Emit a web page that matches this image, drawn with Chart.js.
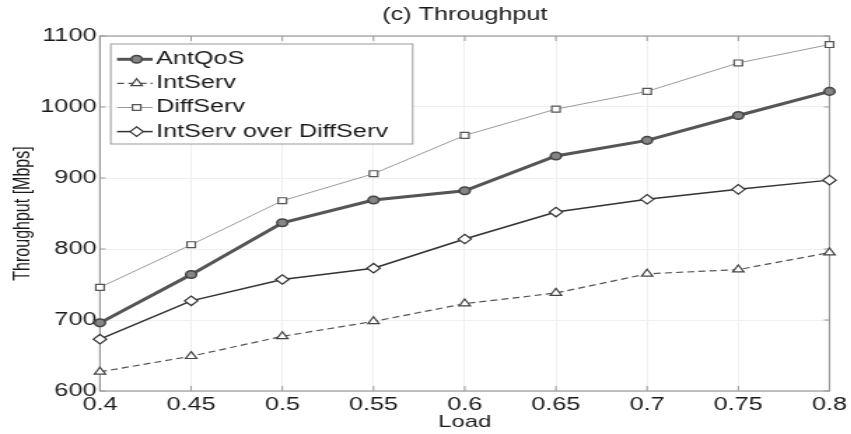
<!DOCTYPE html>
<html>
<head>
<meta charset="utf-8">
<script src="https://cdn.jsdelivr.net/npm/chart.js@4.4.0/dist/chart.umd.min.js"></script>
<style>
html, body { margin: 0; padding: 0; background: #fff; overflow: hidden; }
/* the reference figure is stretched sideways, so draw narrow and widen */
#wrap { width: 608px; height: 434px; transform: scaleX(1.4); transform-origin: 0 0; }
</style>
</head>
<body>
<div id="wrap"><canvas id="chart"></canvas></div>
<script>
const loads = ['0.4', '0.45', '0.5', '0.55', '0.6', '0.65', '0.7', '0.75', '0.8'];
const antQoS = [696, 764, 837, 869, 882, 931, 953, 988, 1022];
const intServ = [627, 649, 677, 698, 723, 738, 765, 771, 795];
const diffServ = [746, 806, 868, 906, 960, 997, 1022, 1062, 1088];
const intOverDiff = [673, 727, 757, 773, 814, 852, 870, 884, 897];
const yTicks = [600, 700, 800, 900, 1000, 1100];

const fontFamily = '"Liberation Sans", Arial, sans-serif';
const textColor = '#1a1a1a';

// box around the plot with MATLAB style inward ticks
const frame = {
    id: 'frame',
    beforeDatasetsDraw(chart) {
        const ctx = chart.ctx;
        const a = chart.chartArea;
        const xs = chart.scales.x;
        const ys = chart.scales.y;
        ctx.save();
        ctx.strokeStyle = '#9a9a9a';
        ctx.lineWidth = 1.2;
        ctx.strokeRect(a.left, a.top, a.right - a.left, a.bottom - a.top);
        ctx.lineWidth = 1;
        ctx.beginPath();
        loads.forEach((_, i) => {
            const px = xs.getPixelForTick(i);
            ctx.moveTo(px, a.bottom); ctx.lineTo(px, a.bottom - 5);
            ctx.moveTo(px, a.top); ctx.lineTo(px, a.top + 5);
        });
        yTicks.forEach(v => {
            const py = ys.getPixelForValue(v);
            ctx.moveTo(a.left, py); ctx.lineTo(a.left + 4, py);
            ctx.moveTo(a.right, py); ctx.lineTo(a.right - 4, py);
        });
        ctx.stroke();
        ctx.restore();
    }
};

// legend inside the plot, line sample with marker
const legendBox = {
    id: 'legendBox',
    afterDatasetsDraw(chart) {
        const ctx = chart.ctx;
        const a = chart.chartArea;
        const x0 = a.left + 7.7, y0 = a.top + 8, w = 215.7, h = 100;
        ctx.save();
        ctx.fillStyle = '#fff';
        ctx.fillRect(x0, y0, w, h);
        ctx.strokeStyle = '#9a9a9a';
        ctx.lineWidth = 1;
        ctx.strokeRect(x0, y0, w, h);
        chart.data.datasets.forEach((ds, i) => {
            const y = y0 + 15.3 + i * 24.1;
            ctx.beginPath();
            ctx.setLineDash(ds.borderDash || []);
            ctx.lineWidth = ds.borderWidth;
            ctx.strokeStyle = ds.borderColor;
            ctx.moveTo(x0 + 4.5, y);
            ctx.lineTo(x0 + 29.9, y);
            ctx.stroke();
            ctx.setLineDash([]);
            ctx.fillStyle = ds.pointBackgroundColor;
            ctx.strokeStyle = ds.pointBorderColor;
            ctx.lineWidth = ds.pointBorderWidth;
            Chart.helpers.drawPoint(ctx, {
                pointStyle: ds.pointStyle,
                radius: ds.pointRadius,
                borderWidth: ds.pointBorderWidth,
                rotation: 0
            }, x0 + 18.5, y);
            ctx.fillStyle = textColor;
            ctx.font = '18px ' + fontFamily;
            ctx.textBaseline = 'middle';
            ctx.textAlign = 'left';
            ctx.fillText(ds.label, x0 + 32.3, y);
        });
        ctx.restore();
    }
};

const config = {
    type: 'line',
    data: {
        labels: loads,
        datasets: [
            {
                label: 'AntQoS',
                data: antQoS,
                borderColor: '#555555',
                borderWidth: 3,
                pointStyle: 'circle',
                pointRadius: 3.8,
                pointBackgroundColor: '#858585',
                pointBorderColor: '#444444',
                pointBorderWidth: 1.5,
                tension: 0,
                clip: false
            },
            {
                label: 'IntServ',
                data: intServ,
                borderColor: '#555555',
                borderWidth: 1.2,
                borderDash: [5, 3],
                pointStyle: 'triangle',
                pointRadius: 4.6,
                pointBackgroundColor: '#ffffff',
                pointBorderColor: '#444444',
                pointBorderWidth: 1.2,
                tension: 0,
                clip: false
            },
            {
                label: 'DiffServ',
                data: diffServ,
                borderColor: '#9a9a9a',
                borderWidth: 1,
                pointStyle: 'rect',
                pointRadius: 4.2,
                pointBackgroundColor: '#ffffff',
                pointBorderColor: '#555555',
                pointBorderWidth: 1.2,
                tension: 0,
                clip: false
            },
            {
                label: 'IntServ over DiffServ',
                data: intOverDiff,
                borderColor: '#333333',
                borderWidth: 1.5,
                pointStyle: 'rectRot',
                pointRadius: 4.7,
                pointBackgroundColor: '#ffffff',
                pointBorderColor: '#333333',
                pointBorderWidth: 1.2,
                tension: 0,
                clip: false
            }
        ]
    },
    options: {
        responsive: true,
        maintainAspectRatio: false,
        animation: false,
        layout: { padding: { left: 0, right: 13, top: 0, bottom: 0 } },
        scales: {
            x: {
                grid: { color: '#efefef', drawTicks: false },
                border: { display: false },
                ticks: {
                    color: textColor,
                    padding: 3,
                    maxRotation: 0,
                    autoSkip: false,
                    font: { family: fontFamily, size: 18 }
                },
                title: {
                    display: true,
                    text: 'Load',
                    color: textColor,
                    padding: { top: 0, bottom: 1 },
                    font: { family: fontFamily, size: 17 }
                },
                afterFit: scale => { scale.height = 43; }
            },
            y: {
                min: 600,
                max: 1100,
                grid: { color: '#efefef', drawTicks: false },
                border: { display: false },
                afterBuildTicks: scale => { scale.ticks = yTicks.map(v => ({ value: v })); },
                ticks: {
                    color: textColor,
                    padding: 2.5,
                    callback: v => String(v),
                    font: { family: fontFamily, size: 18 }
                },
                title: {
                    display: true,
                    text: 'Throughput [Mbps]',
                    color: textColor,
                    padding: { top: 7, bottom: 0 },
                    font: { family: fontFamily, size: 16 }
                },
                afterFit: scale => { scale.width = 71.4; }
            }
        },
        plugins: {
            legend: { display: false },
            tooltip: { enabled: false },
            title: {
                display: true,
                text: '(c) Throughput',
                color: textColor,
                fullSize: false,
                font: { family: fontFamily, size: 18, weight: 'normal' },
                padding: { top: 4.2, bottom: 10.2 }
            }
        }
    },
    plugins: [frame, legendBox]
};

new Chart(document.getElementById('chart').getContext('2d'), config);
</script>
</body>
</html>
